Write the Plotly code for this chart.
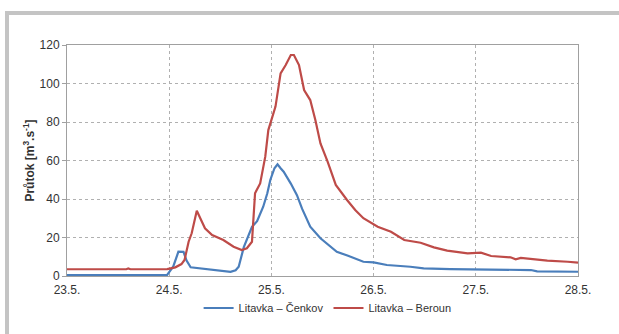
import plotly.graph_objects as go

# time in days since 23.5. 00:00
t_cenkov = [0, 0.5, 0.98, 1.04, 1.09, 1.14, 1.17, 1.21, 1.3, 1.37, 1.47, 1.55, 1.6, 1.65, 1.68,
            1.73, 1.78, 1.81, 1.86, 1.92, 1.96, 1.99, 2.03, 2.06, 2.09, 2.12, 2.19, 2.25, 2.30,
            2.35, 2.38, 2.48, 2.55, 2.64, 2.75, 2.9, 3.0, 3.13, 3.36, 3.49, 3.75, 4.02, 4.54,
            4.6, 5.0]
q_cenkov = [0.5, 0.5, 0.6, 5, 12.6, 12.5, 8, 4.5, 4, 3.6, 3.1, 2.4, 2.2, 3, 4.8,
            15, 22, 25.6, 28.5, 36, 43, 50, 56, 58, 56, 54.2, 48, 42, 35,
            29, 25.6, 19.6, 16.5, 12.6, 10.5, 7.4, 7.1, 5.7, 4.8, 4, 3.6, 3.3, 3.1,
            2.4, 2.2]

t_beroun = [0, 0.58, 0.6, 0.62, 0.98, 1.06, 1.12, 1.15, 1.19, 1.22, 1.27, 1.30, 1.35, 1.42,
            1.53, 1.63, 1.71, 1.76, 1.81, 1.84, 1.89, 1.94, 1.97, 2.04, 2.09, 2.14, 2.19,
            2.22, 2.27, 2.32, 2.38, 2.43, 2.48, 2.55, 2.63, 2.74, 2.82, 2.90, 3.04, 3.17,
            3.30, 3.46, 3.59, 3.72, 3.92, 4.05, 4.15, 4.34, 4.39, 4.44, 4.70, 4.90, 5.0]
q_beroun = [3.5, 3.5, 3.9, 3.5, 3.6, 4.5, 6.2, 8.3, 17.8, 22.2, 33.9, 30.8, 24.8, 21.3,
            18.7, 15.2, 13.5, 14.4, 17.8, 43, 48.1, 62, 75.8, 88, 105.3, 109.6, 114.8,
            114.8, 109.6, 96.6, 91.4, 81, 68.9, 59.4, 47.3, 39.5, 34.3, 30, 25.6, 23,
            18.7, 17.3, 14.9, 13.2, 11.8, 12.1, 10.4, 9.7, 8.7, 9.4, 8, 7.4, 6.9]

tick_pos = [0, 1, 2, 3, 4, 5]
tick_text = ["23.5.", "24.5.", "25.5.", "26.5.", "27.5.", "28.5."]

font = "Liberation Sans"

fig = go.Figure()
fig.add_trace(go.Scatter(x=t_cenkov, y=q_cenkov, mode="lines", name="Litavka – Čenkov",
                         line=dict(color="#4a7ebb", width=2.2)))
fig.add_trace(go.Scatter(x=t_beroun, y=q_beroun, mode="lines", name="Litavka – Beroun",
                         line=dict(color="#be4b48", width=2.2)))

W, H = 619, 334
L, R, T, B = 67, 578, 45, 276
pw, ph = R - L, B - T

def px(x):
    return (x - L) / pw

def py(y):
    return (B - y) / ph

fig.update_layout(
    width=W, height=H,
    margin=dict(l=L, r=W - R, t=T, b=H - B),
    paper_bgcolor="white", plot_bgcolor="white",
    font=dict(family=font, size=12, color="#333333"),
    showlegend=True,
    legend=dict(orientation="h", x=0.51, xanchor="center", y=py(308), yanchor="middle",
                font=dict(size=11, color="#333333"), itemwidth=30, tracegroupgap=0),
    xaxis=dict(range=[0, 5], tickvals=tick_pos, ticktext=tick_text,
               showgrid=True, gridcolor="#b0b0b0", griddash="dot", gridwidth=1,
               showline=True, linecolor="#a0a0a0", mirror=True, zeroline=False,
               ticks="", tickfont=dict(size=12), ticklabelstandoff=3),
    yaxis=dict(range=[0, 120], dtick=20,
               showgrid=True, gridcolor="#b0b0b0", griddash="dot", gridwidth=1,
               showline=True, linecolor="#a0a0a0", mirror=True, zeroline=False,
               ticks="outside", ticklen=4, tickcolor="#a0a0a0", tickfont=dict(size=12),
               title=dict(text="<b>Průtok [m<sup>3</sup>.s<sup>-1</sup>]</b>",
                          font=dict(size=12), standoff=2)),
    shapes=[
        dict(type="rect", xref="paper", yref="paper", x0=px(5), x1=px(619), y0=py(15), y1=py(11),
             fillcolor="#c4c4c4", line=dict(width=0), layer="below"),
        dict(type="rect", xref="paper", yref="paper", x0=px(5), x1=px(9), y0=py(334), y1=py(11),
             fillcolor="#c4c4c4", line=dict(width=0), layer="below"),
    ],
)

fig.write_html("out.html", config={"displayModeBar": False},
               post_script="document.body.style.margin='0';document.body.style.padding='0';")
